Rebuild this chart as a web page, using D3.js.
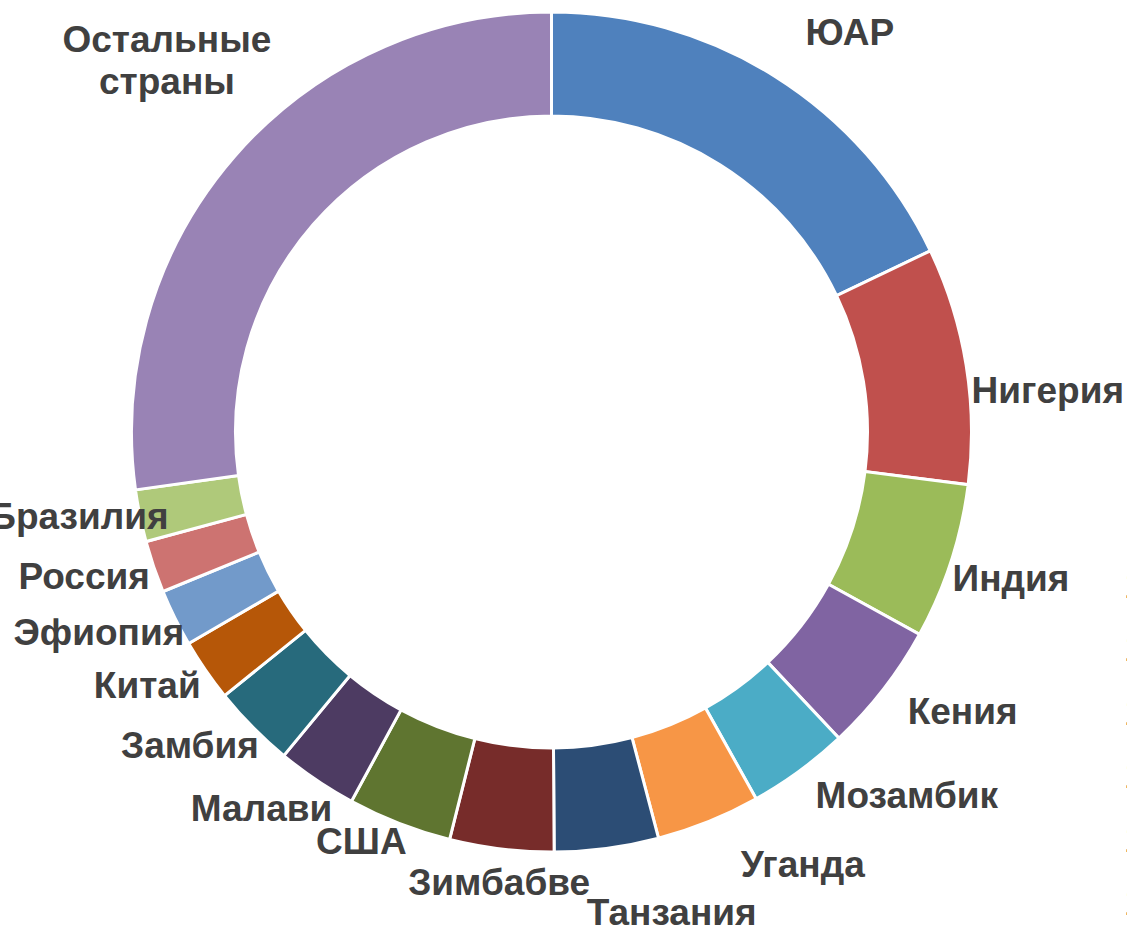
<!DOCTYPE html>
<html>
<head>
<meta charset="utf-8">
<title>Doughnut</title>
<script src="https://cdn.jsdelivr.net/npm/d3@7"></script>
<style>
  body { margin: 0; background: #fff; }
  svg { display: block; }
</style>
</head>
<body>
<div id="chart"></div>
<script>
// shares, percent
var countries = ["ЮАР", "Нигерия", "Индия", "Кения", "Мозамбик", "Уганда", "Танзания",
  "Зимбабве", "США", "Малави", "Замбия", "Китай", "Эфиопия", "Россия", "Бразилия",
  "Остальные страны"];
var shares = [17.9, 9.1, 6.0, 5.0, 3.9, 4.0, 4.0, 4.0, 4.0, 3.1, 3.2, 2.4, 2.2, 2.0, 2.0, 27.2];
var colors = ["#4f81bd", "#c0504d", "#9bbb59", "#8064a2", "#4bacc6", "#f79646", "#2c4d75",
  "#772c2a", "#5f7530", "#4d3b62", "#276a7c", "#b65708", "#729aca", "#cd7371", "#afc97a",
  "#9983b5"];
// clipped text at the right border of the picture
var edgeDigits = ["1", "1", "1", "1", "1", "1"];

// label placement: shift of angle from slice middle (deg) and distance from centre
var labelShift = [4.5, 4.4, -0.4, -3.6, -8.2, -8.2, -6.5, -0.2, 3.7, 3.6, 3.8, 2.5, 2.4, 1.6, 1.4, 3];
var labelDist = [499, 498, 482, 497, 508, 500, 495, 453, 451, 475, 478, 477, 495, 489, 480, 535];

var width = 1127, height = 930;
var cx = 551.5, cy = 432, outerR = 420, innerR = 316;

var svg = d3.select("#chart").append("svg")
    .attr("width", width)
    .attr("height", height);

var g = svg.append("g").attr("transform", "translate(" + cx + "," + cy + ")");

var data = countries.map(function(c, i) { return {name: c, value: shares[i], color: colors[i]}; });

var pie = d3.pie().sort(null).value(function(d) { return d.value; });
var arc = d3.arc().innerRadius(innerR).outerRadius(outerR);
var arcs = pie(data);

g.selectAll("path.slice")
    .data(arcs)
  .enter().append("path")
    .attr("class", "slice")
    .attr("d", arc)
    .attr("fill", function(d) { return d.data.color; })
    .attr("stroke", "#fff")
    .attr("stroke-width", 3)
    .attr("stroke-linejoin", "miter");

var labels = g.selectAll("text.lbl")
    .data(arcs)
  .enter().append("text")
    .attr("class", "lbl")
    .attr("transform", function(d, i) {
      var a = (d.startAngle + d.endAngle) / 2 + labelShift[i] * Math.PI / 180;
      var x = Math.sin(a) * labelDist[i], y = -Math.cos(a) * labelDist[i];
      return "translate(" + x + "," + y + ")";
    })
    .attr("text-anchor", "middle")
    .attr("font-family", "'Liberation Sans', Arial, sans-serif")
    .attr("font-weight", "bold")
    .attr("font-size", 37)
    .attr("fill", "#404040");

labels.each(function(d) {
  var words = d.data.name.split(" ");
  var t = d3.select(this);
  var lh = 1.15;
  words.forEach(function(w, k) {
    t.append("tspan")
      .attr("x", 0)
      .attr("dy", k === 0 ? (0.35 - (words.length - 1) * lh / 2) + "em" : lh + "em")
      .text(w);
  });
});

// digits cut by the right border
var edgeY = d3.scaleLinear().domain([0, edgeDigits.length - 1]).range([598, 915]);
svg.selectAll("text.edge")
    .data(edgeDigits)
  .enter().append("text")
    .attr("class", "edge")
    .attr("x", 1124)
    .attr("y", function(d, i) { return edgeY(i); })
    .attr("font-family", "'Liberation Sans', Arial, sans-serif")
    .attr("font-size", 36)
    .attr("fill", "#000")
    .text(function(d) { return d; });
</script>
</body>
</html>
